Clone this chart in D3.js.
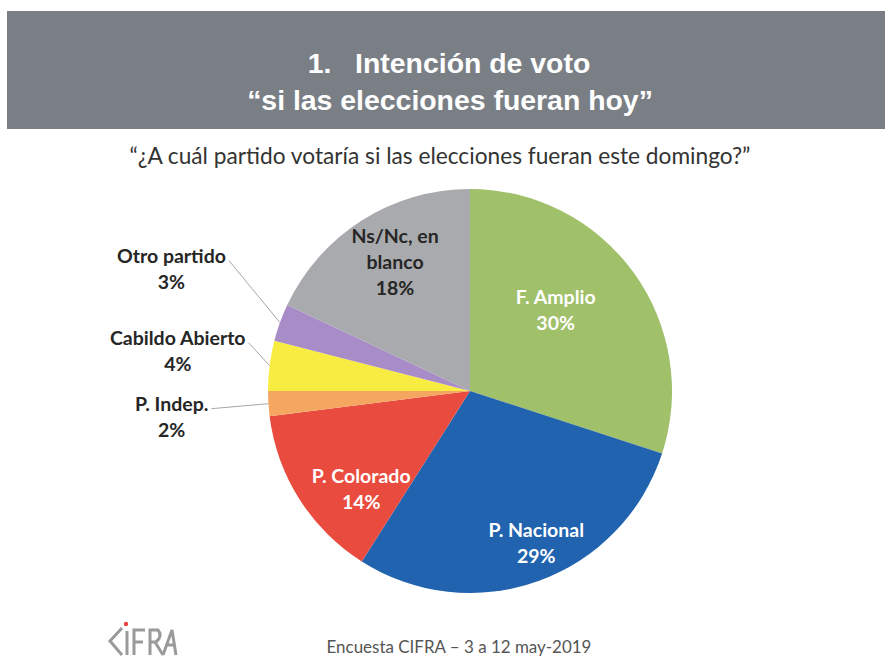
<!DOCTYPE html>
<html lang="es">
<head>
<meta charset="UTF-8">
<title>Intención de voto</title>
<style>
body{margin:0;background:#fff;}
svg text{font-family:Lato,"Open Sans",sans-serif;}
</style>
</head>
<body>
<script src="https://cdn.jsdelivr.net/npm/d3@7/dist/d3.min.js"></script>
<script>
// datos
var partidos = ["F. Amplio","P. Nacional","P. Colorado","P. Indep.","Cabildo Abierto","Otro partido","Ns/Nc, en blanco"];
var votos = [30, 29, 14, 2, 4, 3, 18];
var colores = ["#a0c06a","#2163ae","#e94c3e","#f5a661","#f8ec42","#a88cc8","#a9aaad"];
// etiquetas: lineas de texto por partido
var lineas = [["F. Amplio"],["P. Nacional"],["P. Colorado"],["P. Indep."],["Cabildo Abierto"],["Otro partido"],["Ns/Nc, en","blanco"]];

var width = 889, height = 659;
var cx = 470, cy = 391, R = 202;

var svg = d3.select("body").append("svg")
	.attr("width", width).attr("height", height);

// ajusta el tamaño de letra para llegar a un ancho dado
function fitWidth(t, fs, target){
	var w = t.node().getComputedTextLength();
	t.attr("font-size", fs*target/w);
}

// banda del titulo
svg.append("rect").attr("x",7).attr("y",11).attr("width",878).attr("height",118).attr("fill","#7a7f86");
var t1 = svg.append("text").attr("x",449).attr("y",73).attr("text-anchor","middle")
	.style("font-family","'Liberation Sans Narrow','Liberation Sans',Arial,sans-serif").style("font-weight","bold")
	.attr("font-size",27).attr("fill","#fff").text("1.\u00A0\u00A0\u00A0Intención de voto");
var t2 = svg.append("text").attr("x",450).attr("y",110).attr("text-anchor","middle")
	.style("font-family","'Liberation Sans Narrow','Liberation Sans',Arial,sans-serif").style("font-weight","bold")
	.attr("font-size",27).attr("fill","#fff").text("“si las elecciones fueran hoy”");
fitWidth(t2, 27, 406);
t1.attr("font-size", t2.attr("font-size"));

// pregunta
var sub = svg.append("text").attr("x",440).attr("y",164).attr("text-anchor","middle")
	.attr("font-size",19).attr("fill","#333")
	.text("“¿A cuál partido votaría si las elecciones fueran este domingo?”");
fitWidth(sub, 19, 621);

// torta
var pie = d3.pie().sort(null).value(function(d){return d;});
var arcs = pie(votos);
var arc = d3.arc().innerRadius(0).outerRadius(R);
var g = svg.append("g").attr("transform","translate("+cx+","+cy+")");
g.selectAll("path").data(arcs).enter().append("path")
	.attr("d",arc)
	.attr("fill",function(d,i){return colores[i];});

// ajustes de posicion de etiquetas (layout)
var ajusteIn = {0:[-32,4],1:[17,15],2:[14,20],6:[3,-6]};
var ajusteOut = {3:[-57,5],4:[-21,-23],5:[-51,-62]};
var labelArc = d3.arc().innerRadius(R*0.72).outerRadius(R*0.72);
var edgeArc = d3.arc().innerRadius(R).outerRadius(R);
var fs = 19.5, lh = 26;

arcs.forEach(function(d,i){
	var txt = lineas[i].concat([votos[i]+"%"]);
	if(ajusteIn[i]){
		var c = labelArc.centroid(d);
		var x = cx + c[0] + ajusteIn[i][0];
		var y = cy + c[1] + ajusteIn[i][1];
		var col = (i==6) ? "#262626" : "#fff";
		var y0 = y - (txt.length-1)*lh/2 + 7;
		txt.forEach(function(t,k){
			svg.append("text").attr("x",x).attr("y",y0+k*lh)
				.attr("text-anchor","middle").attr("font-size",fs)
				.style("font-weight","bold").attr("fill",col).text(t);
		});
	} else {
		var e = edgeArc.centroid(d);
		var x1 = cx + e[0], y1 = cy + e[1];
		var x2 = x1 + ajusteOut[i][0], y2 = y1 + ajusteOut[i][1];
		svg.append("line").attr("x1",x1).attr("y1",y1).attr("x2",x2).attr("y2",y2)
			.attr("stroke","#a6a6a6").attr("stroke-width",1);
		var a = svg.append("text").attr("x",x2-3).attr("y",y2+2)
			.attr("text-anchor","end").attr("font-size",fs)
			.style("font-weight","bold").attr("fill","#262626").text(txt[0]);
		var tw = a.node().getComputedTextLength();
		svg.append("text").attr("x",x2-3-tw/2).attr("y",y2+2+lh)
			.attr("text-anchor","middle").attr("font-size",fs)
			.style("font-weight","bold").attr("fill","#262626").text(txt[1]);
	}
});

// logo CIFRA
var logo = svg.append("g").attr("fill","none").attr("stroke","#9a9a9a").attr("stroke-width",3);
logo.append("path").attr("d","M122,628 L110,641 L122,655");
logo.append("path").attr("d","M127,631 L127,655");
logo.append("path").attr("d","M134,655 L134,630 L145,630 M134,642 L143,642");
logo.append("path").attr("d","M150,655 L150,630 L158,630 Q163,636 156,642 L150,642 M155,642 L163,655");
logo.append("path").attr("d","M163,655 L172,630 L176,655 M167,645 L175,645");
svg.append("circle").attr("cx",126).attr("cy",624).attr("r",2.2).attr("fill","#e8453c");

// pie de pagina
var foot = svg.append("text").attr("x",459).attr("y",653).attr("text-anchor","middle")
	.attr("font-size",16).attr("fill","#555")
	.text("Encuesta CIFRA – 3 a 12 may-2019");
fitWidth(foot, 16, 265);
</script>
</body>
</html>
